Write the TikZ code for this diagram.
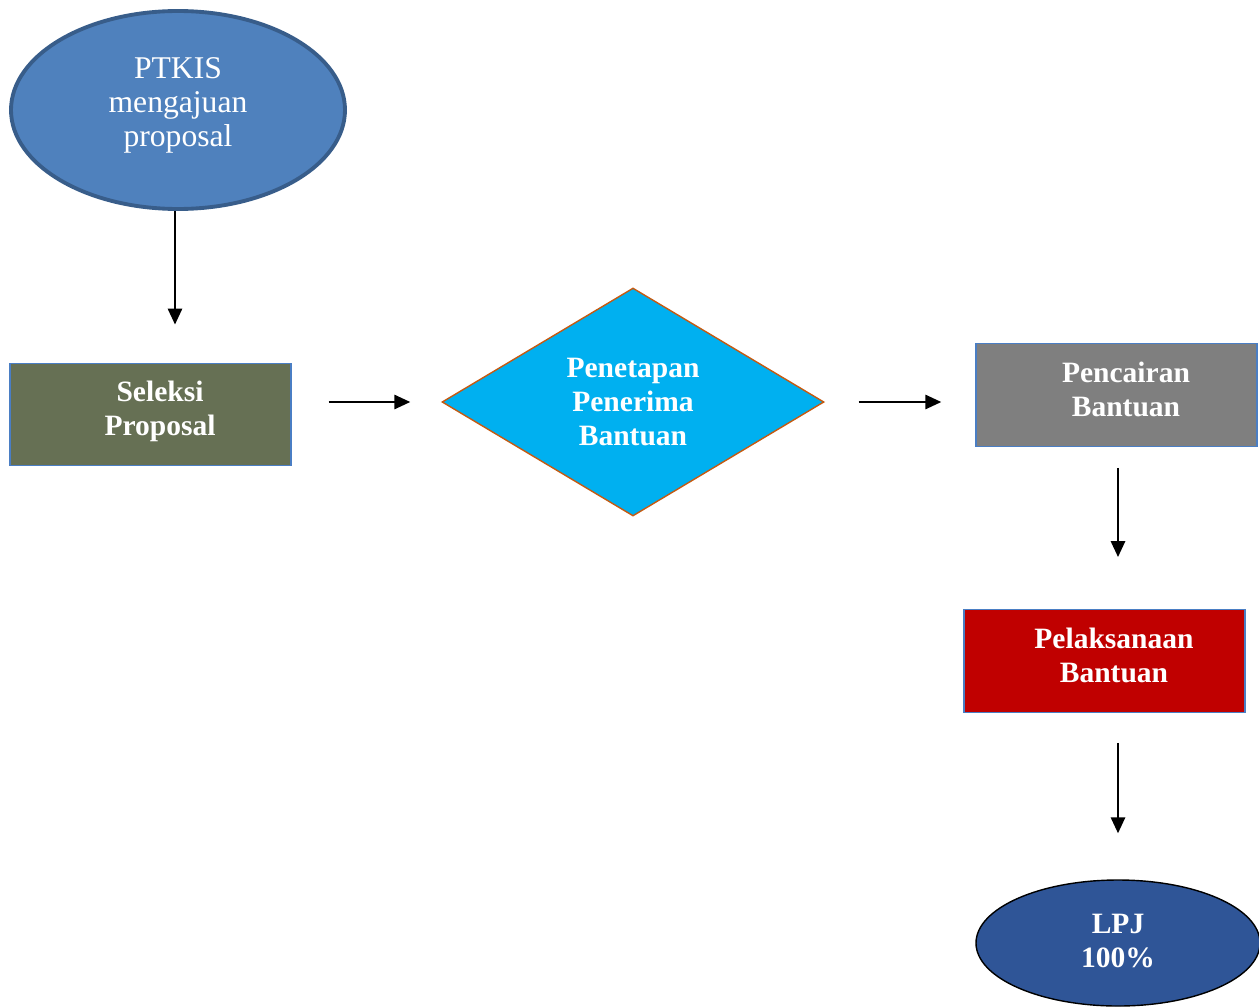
\documentclass[tikz,border=0pt]{standalone}
\usepackage{fontspec}
\setmainfont{Liberation Serif}
\usepackage{tikz}
\usetikzlibrary{arrows.meta,shapes,positioning}
\usepackage{xcolor}
\definecolor{pbblue}{RGB}{79,129,189}
\definecolor{pbblueline}{RGB}{56,93,138}
\definecolor{pbolive}{RGB}{102,112,84}
\definecolor{pbframe}{RGB}{74,126,196}
\definecolor{pbcyan}{RGB}{0,176,240}
\definecolor{pborange}{RGB}{197,90,17}
\definecolor{pbgray}{RGB}{127,127,127}
\definecolor{pbred}{RGB}{192,0,0}
\definecolor{pbnavy}{RGB}{47,85,151}
\tikzstyle{arrow} = [line width=1.3pt,->,>={Triangle[length=9pt,width=8pt]},color=black]
\tikzstyle{process} = [rectangle, minimum width=5.62cm, minimum height=2.05cm, text centered, align=center, draw=pbframe, line width=0.8pt, text=white, text depth=0.22cm, font=\fontsize{16.8}{19.3}\selectfont\bfseries]
\tikzstyle{terminal} = [ellipse, align=center, text=white, font=\fontsize{18}{19.3}\selectfont]

\begin{document}
\begin{tikzpicture}
\useasboundingbox (0,0) rectangle (25.18,-20.12);
% Start
\node (ptkis) [terminal, draw=pbblueline, line width=2.2pt, fill=pbblue, minimum width=6.68cm, minimum height=3.96cm, text depth=0.32cm] at (3.56,-2.2) {PTKIS\\mengajuan\\proposal};

% Steps
\node (seleksi) [process, fill=pbolive, text depth=0.24cm] at (3.01,-8.29) {\hspace*{0.38cm}Seleksi\\\hspace*{0.38cm}Proposal};

\node (tetap) [diamond, aspect=1.675, inner sep=0pt, minimum width=7.64cm, minimum height=4.56cm, draw=pborange, line width=0.8pt, fill=pbcyan, text=white, align=center, font=\fontsize{16.8}{19.3}\selectfont\bfseries] at (12.66,-8.04) {Penetapan\\Penerima\\Bantuan};

\node (cair) [process, fill=pbgray] at (22.33,-7.9) {\hspace*{0.38cm}Pencairan\\\hspace*{0.38cm}Bantuan};

\node (laksana) [process, fill=pbred] at (22.09,-13.22) {\hspace*{0.38cm}Pelaksanaan\\\hspace*{0.38cm}Bantuan};

% End
\node (lpj) [terminal, draw=black, line width=0.8pt, fill=pbnavy, minimum width=5.68cm, minimum height=2.52cm, text depth=0.08cm, font=\fontsize{16.8}{19.3}\selectfont\bfseries] at (22.36,-18.86) {LPJ\\100\%};

% Flow
\draw[arrow, shorten >=0.76cm] ([xshift=-0.06cm]ptkis.south) -- ([xshift=-0.06cm]ptkis.south |- seleksi.north);
\draw[arrow, shorten <=0.74cm, shorten >=0.62cm] (seleksi.east |- tetap.west) -- (tetap.west);
\draw[arrow, shorten <=0.68cm, shorten >=0.68cm] (tetap.east) -- (cair.west |- tetap.east);
\draw[arrow, shorten <=0.42cm, shorten >=1.04cm] (cair.south -| lpj.north) -- (laksana.north -| lpj.north);
\draw[arrow, shorten <=0.6cm, shorten >=0.92cm] (laksana.south -| lpj.north) -- (lpj.north);
\end{tikzpicture}
\end{document}
